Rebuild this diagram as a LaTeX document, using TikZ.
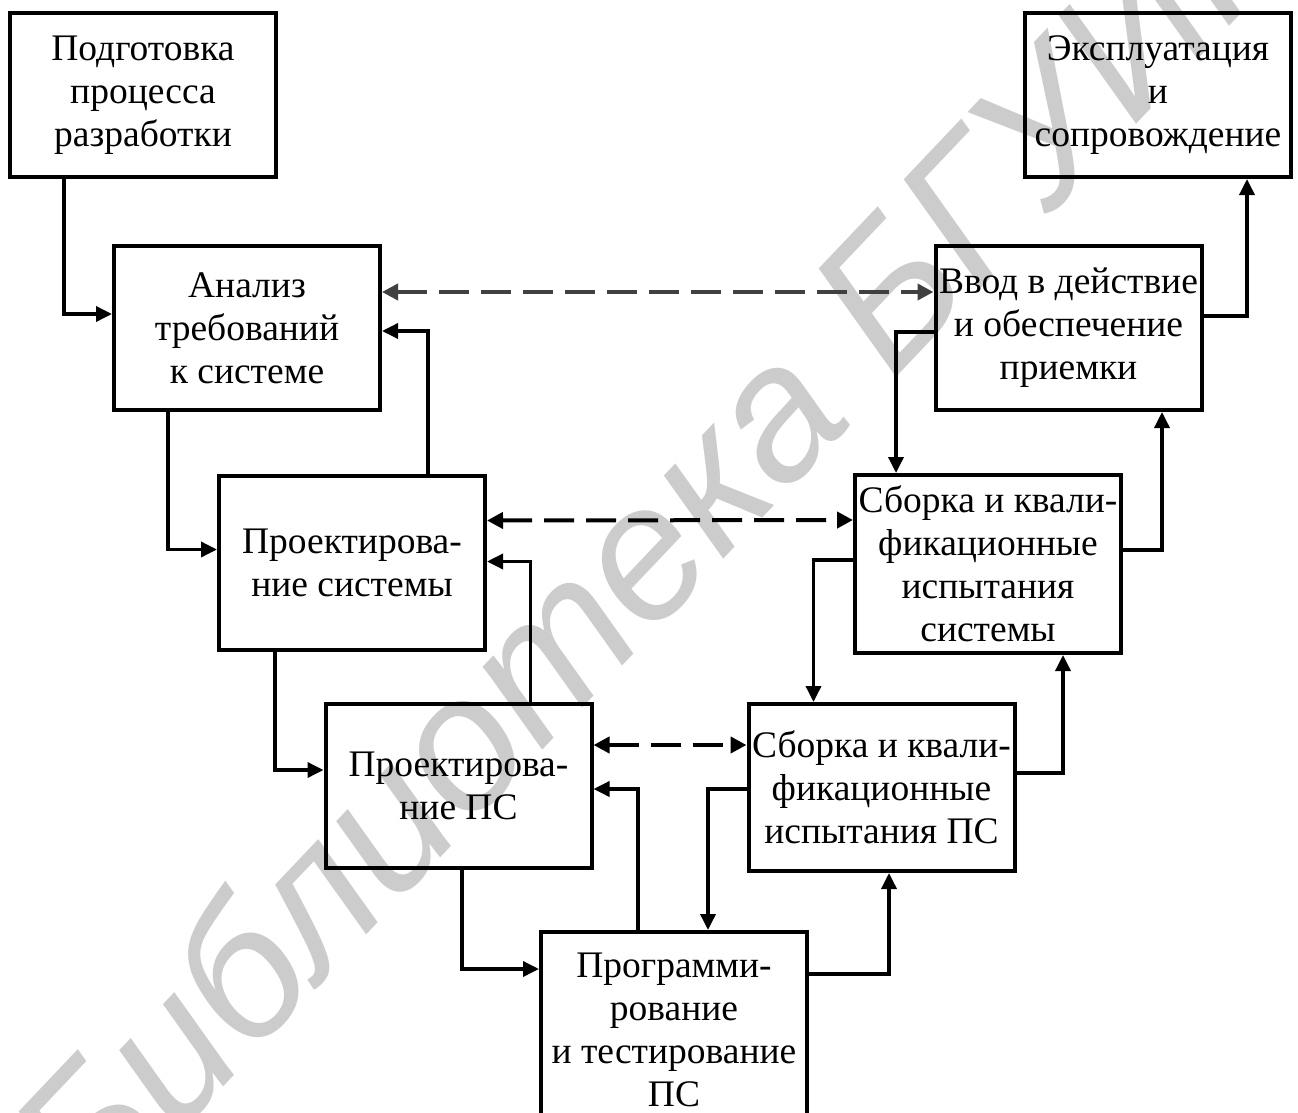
\documentclass[tikz,border=0pt]{standalone}
\usepackage{fontspec}
\setmainfont{Liberation Serif}
\newfontfamily\wmfont{Liberation Sans}
\usetikzlibrary{arrows.meta}

\begin{document}
\begin{tikzpicture}[x=1pt,y=-1pt,
	stage/.style={draw=black, line width=4pt, minimum width=266pt, align=center, inner sep=1pt, font=\fontsize{37.5}{43}\selectfont},
	flow/.style={black, line width=3.5pt, -{Triangle[length=16pt,width=15pt]}},
	link/.style={black, line width=4pt, dash pattern=on 30pt off 12pt, {Triangle[length=16pt,width=16pt]}-{Triangle[length=16pt,width=16pt]}}]
	\useasboundingbox (0,0) rectangle (1298,1113);
	\clip (0,0) rectangle (1298,1113);
	\node [rotate=46.5, anchor=base west, text=black!20, inner sep=0pt, font=\wmfont\itshape\fontsize{190}{190}\selectfont] (wm) at (92,1225) {Библиотека БГУИР};
	\node [stage, minimum height=164pt] (prep) at (143,95) {Подготовка\\процесса\\разработки};
	\node [stage, minimum height=164pt] (expl) at (1158,95) {Эксплуатация\\и\\сопровождение};
	\node [stage, minimum height=164pt] (req) at (247,328) {Анализ\\требований\\к системе};
	\node [stage, minimum height=164pt] (accept) at (1068.5,328) {Ввод в действие\\и обеспечение\\приемки};
	\node [stage, minimum height=174pt] (sysdes) at (352,562.5) {Проектирова-\\ние системы};
	\node [stage, minimum height=178pt] (systest) at (988,564) {Сборка и квали-\\фикационные\\испытания\\системы};
	\node [stage, minimum height=164pt] (swdes) at (458.5,786) {Проектирова-\\ние ПС};
	\node [stage, minimum height=167pt] (swtest) at (881.5,787.5) {Сборка и квали-\\фикационные\\испытания ПС};
	\node [stage, minimum height=196pt] (code) at (674,1030) {Программи-\\рование\\и тестирование\\ПС};
	\draw [flow] ([xshift=-79pt]prep.south) |- ([yshift=14pt]req.west);
	\draw [flow] ([xshift=-79pt]req.south) |- ([yshift=13pt]sysdes.west);
	\draw [flow] ([xshift=-77pt]sysdes.south) |- ([yshift=16pt]swdes.west);
	\draw [flow] ([xshift=3.5pt]swdes.south) |- ([yshift=61pt]code.west);
	\draw [flow] ([yshift=56pt]code.east) -| ([xshift=7.5pt]swtest.south);
	\draw [flow] ([yshift=14.5pt]swtest.east) -| ([xshift=75pt]systest.south);
	\draw [flow] ([yshift=14pt]systest.east) -| ([xshift=93.5pt]accept.south);
	\draw [flow] ([yshift=12pt]accept.east) -| ([xshift=89pt]expl.south);
	\draw [flow] ([yshift=-4pt]accept.west) -| ([xshift=-92pt]systest.north);
	\draw [flow] ([yshift=4pt]systest.west) -| ([xshift=-68pt]swtest.north);
	\draw [flow] ([yshift=-1.5pt]swtest.west) -| ([xshift=34pt]code.north);
	\draw [flow] ([xshift=-36pt]code.north) |- ([yshift=-3pt]swdes.east);
	\draw [flow] ([xshift=72pt]swdes.north) |- ([yshift=1pt]sysdes.east);
	\draw [flow] ([xshift=76pt]sysdes.north) |- ([yshift=-3pt]req.east);
	\draw [link, black!75] ([yshift=36pt]req.east) -- ([yshift=36pt]accept.west);
	\draw [link] ([yshift=42pt]sysdes.east) -- ([yshift=44pt]systest.west);
	\draw [link] ([yshift=41pt]swdes.east) -- ([yshift=42.5pt]swtest.west);
\end{tikzpicture}
\end{document}
